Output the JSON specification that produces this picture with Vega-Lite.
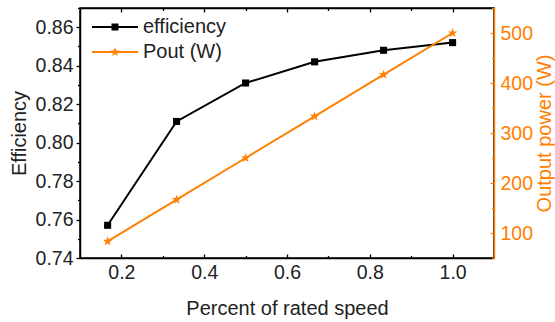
{
  "$schema": "https://vega.github.io/schema/vega-lite/v6.json",
  "width": 414,
  "height": 250,
  "autosize": "none",
  "padding": {"left": 80, "top": 8, "right": 61, "bottom": 64},
  "background": "white",
  "config": {
    "font": "Liberation Sans",
    "view": {"stroke": "black", "strokeWidth": 1.5},
    "axis": {"grid": false, "domainWidth": 1.5, "tickWidth": 1.3, "labelFontSize": 19.5, "titleFontSize": 20, "titleFontWeight": "normal", "labelColor": "#222", "titleColor": "#222", "domainColor": "black", "tickColor": "black", "labelFont": "Liberation Sans", "titleFont": "Liberation Sans"}
  },
  "data": {"values": [
    {"speed": 0.1667, "efficiency": 0.757, "pout": 83.3},
    {"speed": 0.3333, "efficiency": 0.811, "pout": 166.7},
    {"speed": 0.5, "efficiency": 0.831, "pout": 250},
    {"speed": 0.6667, "efficiency": 0.842, "pout": 333.3},
    {"speed": 0.8333, "efficiency": 0.848, "pout": 416.7},
    {"speed": 1.0, "efficiency": 0.852, "pout": 500}
  ]},
  "resolve": {"scale": {"y": "independent"}, "axis": {"x": "independent"}},
  "layer": [
    {
      "mark": {"type": "line", "strokeWidth": 2, "color": "black", "point": {"shape": "square", "size": 50, "filled": true, "opacity": 1, "color": "black"}},
      "encoding": {
        "x": {"field": "speed", "type": "quantitative", "scale": {"domain": [0.1, 1.1], "nice": false, "zero": false},
          "axis": {"orient": "bottom", "title": "Percent of rated speed", "values": [0.2, 0.4, 0.6, 0.8, 1.0], "format": ".1f",
            "tickSize": -4, "labelPadding": 9.5, "titlePadding": 16}},
        "y": {"field": "efficiency", "type": "quantitative", "scale": {"domain": [0.74, 0.87], "nice": false, "zero": false},
          "axis": {"orient": "left", "title": "Efficiency", "values": [0.74, 0.76, 0.78, 0.8, 0.82, 0.84, 0.86], "format": ".2f",
            "tickSize": 4, "labelPadding": 3, "titlePadding": 6}}
      }
    },
    {
      "mark": {"type": "line", "strokeWidth": 2, "color": "#FF8000", "point": {"shape": "M0,-1L0.235,-0.324L0.951,-0.309L0.38,0.124L0.588,0.809L0,0.4L-0.588,0.809L-0.38,0.124L-0.951,-0.309L-0.235,-0.324Z", "size": 100, "filled": true, "opacity": 1, "color": "#FF8000"}},
      "encoding": {
        "x": {"field": "speed", "type": "quantitative", "scale": {"domain": [0.1, 1.1], "nice": false, "zero": false},
          "axis": {"orient": "top", "title": null, "labels": false, "values": [0.2, 0.4, 0.6, 0.8, 1.0], "tickSize": -4}},
        "y": {"field": "pout", "type": "quantitative", "scale": {"domain": [50, 550], "nice": false, "zero": false},
          "axis": {"orient": "right", "title": "Output power (W)", "values": [100, 200, 300, 400, 500], "format": "d",
            "tickSize": -4, "titleAngle": 270, "titleBaseline": "top",
            "domainColor": "#FF8000", "tickColor": "#FF8000", "labelColor": "#FF8000", "titleColor": "#FF8000",
            "labelPadding": 10, "titlePadding": 2}}
      }
    },
    {
      "mark": {"type": "point", "filled": true, "opacity": 0},
      "encoding": {
        "x": {"field": "speed", "type": "quantitative", "scale": {"domain": [0.1, 1.1], "nice": false, "zero": false},
          "axis": {"orient": "bottom", "title": null, "labels": false, "domain": false, "values": [0.3, 0.5, 0.7, 0.9], "tickSize": -2.5}},
        "y": {"field": "efficiency", "type": "quantitative", "scale": {"domain": [0.74, 0.87], "nice": false, "zero": false},
          "axis": {"orient": "left", "title": null, "labels": false, "domain": false, "values": [0.75, 0.77, 0.79, 0.81, 0.83, 0.85, 0.87], "tickSize": 2.5}},
        "color": {"datum": "efficiency", "type": "nominal",
          "scale": {"domain": ["efficiency", "Pout (W)"], "range": ["black", "#FF8000"]},
          "legend": {"title": null, "orient": "none", "legendX": 25, "legendY": 9, "padding": 0,
            "labelFontSize": 20, "labelColor": "#222", "labelFont": "Liberation Sans", "labelOffset": 18,
            "symbolSize": 400, "rowPadding": 5, "symbolOpacity": 1, "symbolStrokeWidth": 0}},
        "shape": {"datum": "efficiency", "type": "nominal",
          "scale": {"domain": ["efficiency", "Pout (W)"], "range": [
            "M-2.3,-0.1H2.3V0.1H-2.3ZM-0.35,-0.35H0.35V0.35H-0.35Z",
            "M-2.3,-0.1H2.3V0.1H-2.3ZM0,-0.5L0.118,-0.162L0.476,-0.155L0.19,0.062L0.294,0.405L0,0.2L-0.294,0.405L-0.19,0.062L-0.476,-0.155L-0.118,-0.162Z"]}}
      }
    },
    {
      "mark": {"type": "point", "filled": true, "opacity": 0},
      "encoding": {
        "x": {"field": "speed", "type": "quantitative", "scale": {"domain": [0.1, 1.1], "nice": false, "zero": false},
          "axis": {"orient": "top", "title": null, "labels": false, "domain": false, "values": [0.3, 0.5, 0.7, 0.9], "tickSize": -2.5}},
        "y": {"field": "pout", "type": "quantitative", "scale": {"domain": [50, 550], "nice": false, "zero": false},
          "axis": {"orient": "right", "title": null, "labels": false, "domain": false, "values": [50, 150, 250, 350, 450, 550], "tickSize": -2.5, "tickColor": "#FF8000"}},
        "color": {"datum": "Pout (W)", "type": "nominal"},
        "shape": {"datum": "Pout (W)", "type": "nominal"}
      }
    }
  ]
}
